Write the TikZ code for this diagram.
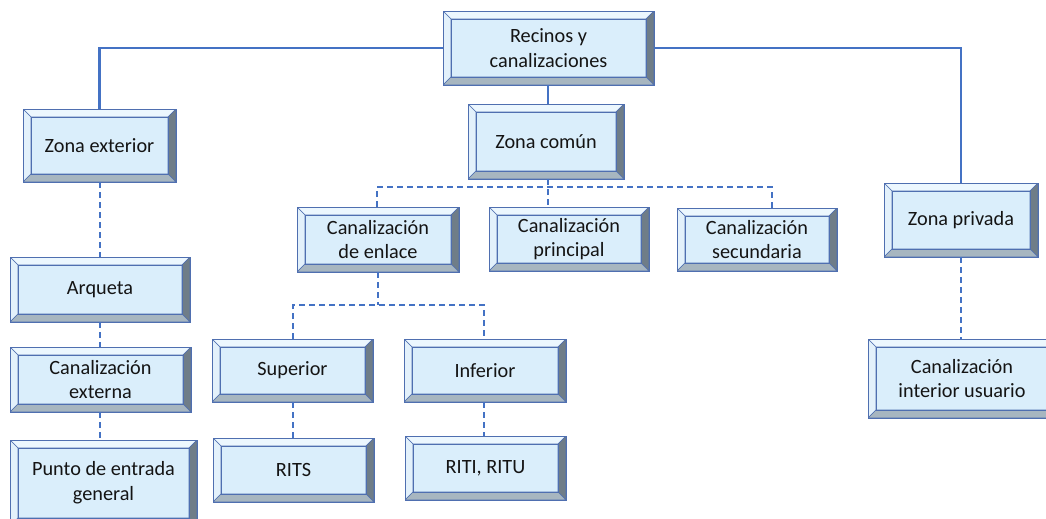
\documentclass[tikz,border=0pt]{standalone}
\usepackage{fontspec}
\setmainfont{Carlito}
\usetikzlibrary{calc}

\definecolor{face}{HTML}{DAEEFB}
\definecolor{bevtop}{HTML}{ECF7FE}
\definecolor{bevleft}{HTML}{E3F1FB}
\definecolor{bevright}{HTML}{6F7D88}
\definecolor{bevbottom}{HTML}{A7B6C0}
\definecolor{edge}{HTML}{4F6FB0}
\definecolor{link}{HTML}{4472C4}
\definecolor{ink}{HTML}{141414}

% bevel width
\def\bw{6pt}

\tikzset{
  bevelbox/.style={
    rectangle, inner sep=0pt, outer sep=0pt,
    fill=face, draw=edge, line width=0.7pt,
    font=\fontsize{15.2}{18.6}\selectfont, text=ink, align=center,
    path picture={
      \coordinate (bNW) at (path picture bounding box.north west);
      \coordinate (bNE) at (path picture bounding box.north east);
      \coordinate (bSW) at (path picture bounding box.south west);
      \coordinate (bSE) at (path picture bounding box.south east);
      \coordinate (iNW) at ($(bNW)+(\bw,-\bw)$);
      \coordinate (iNE) at ($(bNE)+(-\bw,-\bw)$);
      \coordinate (iSW) at ($(bSW)+(\bw,\bw)$);
      \coordinate (iSE) at ($(bSE)+(-\bw,\bw)$);
      \filldraw[fill=bevtop, draw=edge, line width=0.5pt] (bNW) -- (bNE) -- (iNE) -- (iNW) -- cycle;
      \filldraw[fill=bevleft, draw=edge, line width=0.5pt] (bNW) -- (iNW) -- (iSW) -- (bSW) -- cycle;
      \filldraw[fill=bevright, draw=edge, line width=0.5pt] (bNE) -- (bSE) -- (iSE) -- (iNE) -- cycle;
      \filldraw[fill=bevbottom, draw=edge, line width=0.5pt] (bSW) -- (bSE) -- (iSE) -- (iSW) -- cycle;
      \draw[edge, line width=0.5pt] (iNW) rectangle (iSE);
    }
  },
  solidlink/.style={draw=link, line width=1.6pt},
  dashlink/.style={draw=link, line width=1.5pt, dash pattern=on 4.5pt off 3pt}
}

% box from pixel corners: name, x1, y1, x2, y2, text
\newcommand{\bevnode}[6]{%
  \node[bevelbox, minimum width={(#4-#2)*0.75pt}, minimum height={(#5-#3)*0.75pt}]
    (#1) at ({(#2+#4)/2},{(#3+#5)/2}) {#6};}

\begin{document}
\begin{tikzpicture}[x=0.75pt, y=-0.75pt]
  \useasboundingbox (0,0) rectangle (1046,518);

  % boxes
  \bevnode{rec}{443}{11}{654}{85}{Recinos y\\canalizaciones}
  \bevnode{zext}{23}{109}{176}{182}{Zona exterior}
  \bevnode{zcom}{468}{104}{624}{179}{Zona común}
  \bevnode{zpriv}{884}{183}{1038}{257}{Zona privada}
  \bevnode{enl}{297}{207}{459}{272}{Canalización\\de enlace}
  \bevnode{prin}{489}{207}{649}{271}{Canalización\\principal}
  \bevnode{sec}{677}{208}{837}{271}{Canalización\\secundaria}
  \bevnode{arq}{10}{257}{190}{322}{Arqueta}
  \bevnode{cext}{10}{347}{191}{412}{Canalización\\externa}
  \bevnode{pe}{10}{440}{197}{526}{Punto de entrada\\general}
  \bevnode{sup}{212}{339}{373}{402}{Superior}
  \bevnode{inf}{404}{339}{566}{402}{Inferior}
  \bevnode{rits}{213}{438}{374}{502}{RITS}
  \bevnode{riti}{405}{436}{566}{500}{RITI, RITU}
  \bevnode{ciu}{868}{339}{1056}{418}{Canalización\\interior usuario}

  % junction points of the dashed buses
  \coordinate (busR) at (772,187);
  \coordinate (busB) at (484,305);

  % solid links from the root
  \draw[solidlink] (rec.west) -| (zext.north);
  \draw[solidlink] (rec.east) -| (zpriv.north);
  \draw[solidlink] (rec.south -| 548,0) -- (548,0 |- zcom.north);

  % common zone branches
  \draw[dashlink] (548,0 |- zcom.south) -- (548,0 |- prin.north);
  \draw[dashlink] (377,0 |- enl.north) |- (busR) -- (busR |- sec.north);

  % link channel branches
  \draw[dashlink] (enl.south) -- (enl.south |- busB);
  \draw[dashlink] (293,0 |- sup.north) |- (busB) -- (busB |- inf.north);
  \draw[dashlink] (293,0 |- sup.south) -- (293,0 |- rits.north);
  \draw[dashlink] (inf.south -| busB) -- (busB |- riti.north);

  % exterior zone chain
  \draw[dashlink] (zext.south) -- (zext.south |- arq.north);
  \draw[dashlink] (arq.south) -- (arq.south |- cext.north);
  \draw[dashlink] (cext.south -| arq.south) -- (arq.south |- pe.north);

  % private zone
  \draw[dashlink] (zpriv.south) -- (zpriv.south |- ciu.north);
\end{tikzpicture}
\end{document}
